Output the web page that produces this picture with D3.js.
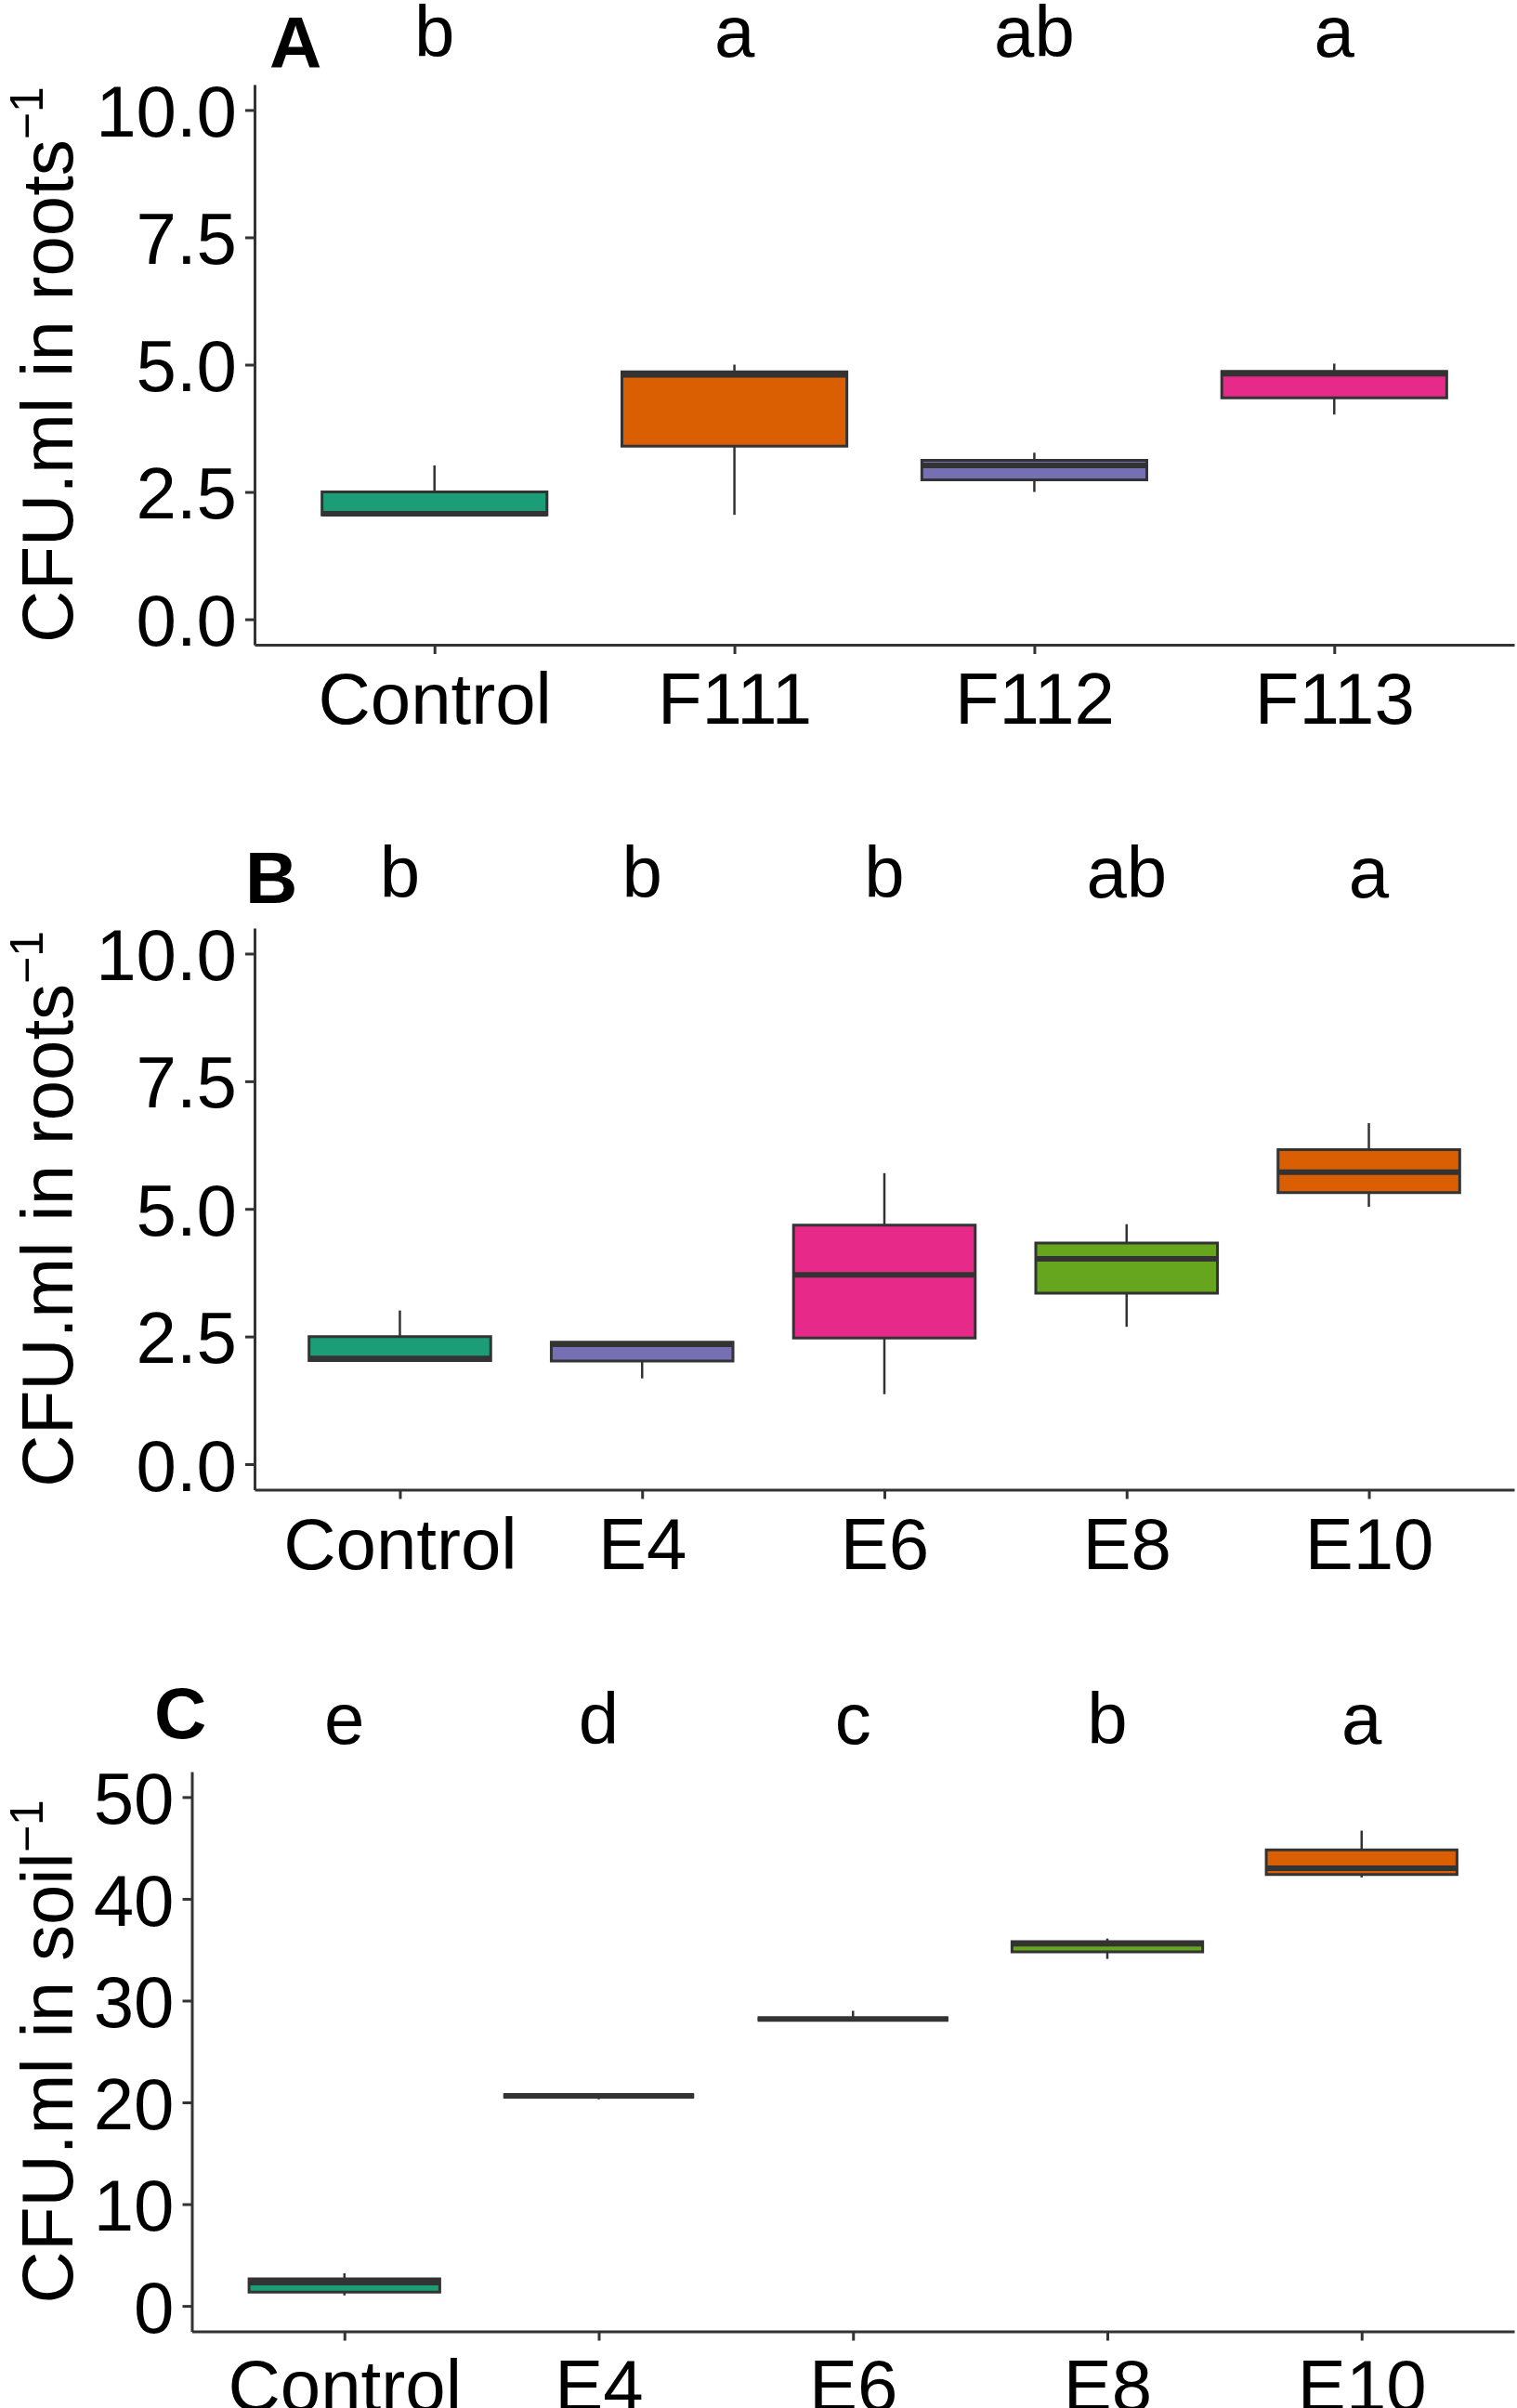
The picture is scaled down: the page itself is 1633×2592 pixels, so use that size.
<!DOCTYPE html>
<html>
<head>
<meta charset="utf-8">
<script src="https://cdn.jsdelivr.net/npm/d3@7"></script>
<style>
  body { margin: 0; background: #fff; }
  text { font-family: "Liberation Sans", Arial, sans-serif; fill: #000; }
</style>
</head>
<body>
<script>
// --- data: [min, q1, median, q3, max] per group ---
const groupsA = ["Control", "F111", "F112", "F113"];
const lettersA = ["b", "a", "ab", "a"];
const statsA = [
  [2.05, 2.05, 2.07, 2.50, 3.02],
  [2.05, 3.40, 4.80, 4.86, 5.00],
  [2.50, 2.74, 3.02, 3.12, 3.27],
  [4.02, 4.35, 4.82, 4.87, 5.02]
];

const groupsB = ["Control", "E4", "E6", "E8", "E10"];
const lettersB = ["b", "b", "b", "ab", "a"];
const statsB = [
  [2.03, 2.03, 2.07, 2.50, 3.01],
  [1.68, 2.02, 2.35, 2.39, 2.39],
  [1.37, 2.47, 3.71, 4.68, 5.70],
  [2.69, 3.35, 4.02, 4.33, 4.70],
  [5.04, 5.32, 5.72, 6.16, 6.68]
];

const groupsC = ["Control", "E4", "E6", "E8", "E10"];
const lettersC = ["e", "d", "c", "b", "a"];
const statsC = [
  [1.03, 1.35, 2.30, 2.65, 3.20],
  [20.30, 20.65, 20.65, 20.65, 20.90],
  [28.20, 28.20, 28.20, 28.20, 29.00],
  [34.10, 34.80, 35.60, 35.80, 36.10],
  [42.10, 42.40, 43.00, 44.80, 46.70]
];

const ticksRoots = [0, 2.5, 5, 7.5, 10];
const ticksSoil = [0, 10, 20, 30, 40, 50];

// Dark2 colours as used in the figure
const colorsA = ["#1B9E77", "#D95F02", "#7570B3", "#E7298A"];
const colorsB = ["#1B9E77", "#7570B3", "#E7298A", "#66A61E", "#D95F02"];
const colorsC = ["#1B9E77", "#7570B3", "#E7298A", "#66A61E", "#D95F02"];

const W = 1633, H = 2592;
const FONT = 78;
const INK = "#333333";

const svg = d3.select("body").append("svg")
  .attr("width", W).attr("height", H);

function drawPanel(p) {
  const g = svg.append("g");

  const y = d3.scaleLinear().domain(p.domain).range([p.bottom, p.top]);
  const x = d3.scalePoint().domain(p.groups).range([p.left, p.right]).padding(0.6);
  const bw = x.step() * 0.75;

  // y axis
  const yAx = g.append("g")
    .attr("transform", `translate(${p.left},0)`)
    .call(d3.axisLeft(y).tickValues(p.ticks).tickFormat(p.fmt)
      .tickSize(10).tickSizeOuter(0).tickPadding(9));
  // x axis
  const xAx = g.append("g")
    .attr("transform", `translate(0,${p.bottom})`)
    .call(d3.axisBottom(x).tickSize(10).tickSizeOuter(0).tickPadding(20));

  [yAx, xAx].forEach(ax => {
    ax.select(".domain").attr("stroke", INK).attr("stroke-width", 3);
    ax.selectAll(".tick line").attr("stroke", INK).attr("stroke-width", 3);
    ax.selectAll(".tick text")
      .style("font-family", '"Liberation Sans", Arial, sans-serif')
      .attr("font-size", FONT).attr("fill", "#000");
  });
  yAx.selectAll(".tick text").attr("dy", "0.36em");
  xAx.selectAll(".tick text").attr("dy", "0.71em");

  // boxes
  const rows = p.groups.map((name, i) => ({
    name, min: p.stats[i][0], q1: p.stats[i][1], med: p.stats[i][2],
    q3: p.stats[i][3], max: p.stats[i][4], color: p.colors[i]
  }));

  const box = g.selectAll("g.box").data(rows).join("g").attr("class", "box");

  box.append("line")
    .attr("x1", d => x(d.name)).attr("x2", d => x(d.name))
    .attr("y1", d => y(d.max)).attr("y2", d => y(d.q3))
    .attr("stroke", INK).attr("stroke-width", 2.5);
  box.append("line")
    .attr("x1", d => x(d.name)).attr("x2", d => x(d.name))
    .attr("y1", d => y(d.q1)).attr("y2", d => y(d.min))
    .attr("stroke", INK).attr("stroke-width", 2.5);

  // path instead of rect so a collapsed box still shows its outline
  box.append("path")
    .attr("d", d => {
      const x0 = x(d.name) - bw / 2, x1 = x(d.name) + bw / 2;
      return `M${x0},${y(d.q3)}H${x1}V${y(d.q1)}H${x0}Z`;
    })
    .attr("fill", d => d.color)
    .attr("stroke", INK).attr("stroke-width", 3);

  box.append("line")
    .attr("x1", d => x(d.name) - bw / 2).attr("x2", d => x(d.name) + bw / 2)
    .attr("y1", d => y(d.med)).attr("y2", d => y(d.med))
    .attr("stroke", INK).attr("stroke-width", 6);

  // significance letters above each group
  g.selectAll("text.sig").data(p.letters).join("text")
    .attr("class", "sig")
    .attr("x", (d, i) => x(p.groups[i]))
    .attr("y", p.letterY)
    .attr("text-anchor", "middle")
    .attr("font-size", FONT)
    .text(d => d);

  // panel tag
  g.append("text")
    .attr("x", p.tagX).attr("y", p.tagY)
    .attr("font-size", FONT).attr("font-weight", "bold")
    .text(p.tag);

  // y title with superscript
  const t = g.append("text")
    .attr("transform", `translate(78,${(p.top + p.bottom) / 2}) rotate(-90)`)
    .attr("text-anchor", "middle")
    .attr("font-size", FONT);
  t.append("tspan").text(p.title);
  t.append("tspan").attr("font-size", 50).attr("dy", -32).text("\u22121");
}

drawPanel({
  groups: groupsA, stats: statsA, letters: lettersA, colors: colorsA,
  ticks: ticksRoots, fmt: d3.format(".1f"), domain: [-0.5, 10.5],
  top: 91, bottom: 694, left: 274, right: 1630,
  letterY: 61, tag: "A", tagX: 290, tagY: 73,
  title: "CFU.ml in roots"
});

drawPanel({
  groups: groupsB, stats: statsB, letters: lettersB, colors: colorsB,
  ticks: ticksRoots, fmt: d3.format(".1f"), domain: [-0.5, 10.5],
  top: 999, bottom: 1603.5, left: 274, right: 1630,
  letterY: 966, tag: "B", tagX: 264, tagY: 972,
  title: "CFU.ml in roots"
});

drawPanel({
  groups: groupsC, stats: statsC, letters: lettersC, colors: colorsC,
  ticks: ticksSoil, fmt: d3.format("d"), domain: [-2.5, 52.5],
  top: 1907, bottom: 2509.5, left: 206.5, right: 1630,
  letterY: 1877, tag: "C", tagX: 166, tagY: 1871,
  title: "CFU.ml in soil"
});
</script>
</body>
</html>
